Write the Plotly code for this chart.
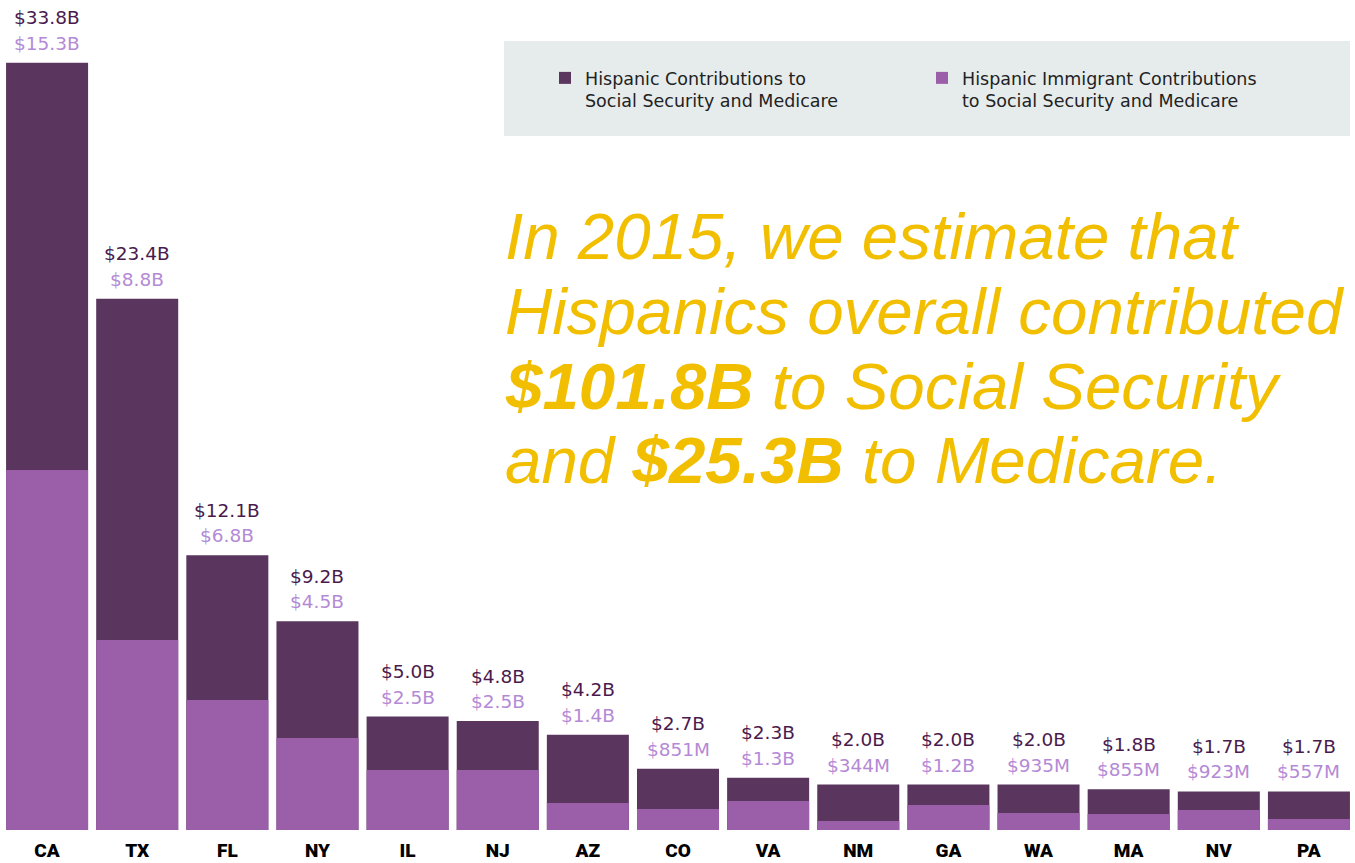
import plotly.graph_objects as go

states = ["CA", "TX", "FL", "NY", "IL", "NJ", "AZ", "CO", "VA", "NM", "GA", "WA", "MA", "NV", "PA"]
hispanic = [33.8, 23.4, 12.1, 9.2, 5.0, 4.8, 4.2, 2.7, 2.3, 2.0, 2.0, 2.0, 1.8, 1.7, 1.7]
# immigrant bar heights as drawn in the picture (billions)
immigrant = [15.86, 8.37, 5.73, 4.05, 2.64, 2.64, 1.19, 0.93, 1.28, 0.40, 1.10, 0.75, 0.70, 0.88, 0.48]
hispanic_labels = ["$33.8B", "$23.4B", "$12.1B", "$9.2B", "$5.0B", "$4.8B", "$4.2B", "$2.7B",
                   "$2.3B", "$2.0B", "$2.0B", "$2.0B", "$1.8B", "$1.7B", "$1.7B"]
immigrant_labels = ["$15.3B", "$8.8B", "$6.8B", "$4.5B", "$2.5B", "$2.5B", "$1.4B", "$851M",
                    "$1.3B", "$344M", "$1.2B", "$935M", "$855M", "$923M", "$557M"]

DARK = "#5a365e"
PURPLE = "#9b5ea8"
DARK_TXT = "#4a1a4e"
LIGHT_TXT = "#b48ad6"
YELLOW = "#f2bf00"

W, H = 1355, 863
ML, MR, MT, MB = 2, 1, 0, 33
PH = H - MT - MB

fig = go.Figure()
fig.add_trace(go.Bar(
    x=states, y=hispanic, marker_color=DARK, marker_line_width=0,
    name="Hispanic Contributions to<br>Social Security and Medicare",
))
fig.add_trace(go.Bar(
    x=states, y=immigrant, marker_color=PURPLE, marker_line_width=0,
    name="Hispanic Immigrant Contributions<br>to Social Security and Medicare",
))

LABEL_FONT = "'DejaVu Sans', Inter, sans-serif"
for s, v, hl, il in zip(states, hispanic, hispanic_labels, immigrant_labels):
    fig.add_annotation(x=s, y=v, text=hl, showarrow=False, yanchor="middle", yshift=45,
                       font=dict(family=LABEL_FONT, size=18.5, color=DARK_TXT))
    fig.add_annotation(x=s, y=v, text=il, showarrow=False, yanchor="middle", yshift=19.5,
                       font=dict(family=LABEL_FONT, size=18.5, color=LIGHT_TXT))

def py2paper(py):
    return (MT + PH - py) / PH

def px2paper(px):
    return (px - ML) / (W - ML - MR)

# legend background
fig.add_shape(type="rect", xref="paper", yref="paper",
              x0=px2paper(504), x1=px2paper(1350), y0=py2paper(136), y1=py2paper(41),
              fillcolor="#e6ecec", line_width=0, layer="below")

TITLE_FONT = "'Liberation Sans', Arial, sans-serif"
lines = [
    "In 2015, we estimate that",
    "Hispanics overall contributed",
    "<b>$101.8B</b> to Social Security",
    "and <b>$25.3B</b> to Medicare.",
]
baselines = [258, 333, 408, 483]
for ln, b in zip(lines, baselines):
    fig.add_annotation(xref="paper", yref="paper", x=px2paper(503), y=py2paper(b - 22),
                       xanchor="left", yanchor="middle", showarrow=False, text=ln,
                       font=dict(family=TITLE_FONT, size=65.5, color=YELLOW, style="italic"))

fig.update_layout(
    width=W, height=H,
    margin=dict(l=ML, r=MR, t=MT, b=MB, pad=0),
    paper_bgcolor="white", plot_bgcolor="white",
    barmode="overlay", bargap=0.09,
    showlegend=True,
    legend=dict(orientation="h", x=px2paper(545), y=py2paper(60), xanchor="left", yanchor="top",
                bgcolor="rgba(0,0,0,0)", valign="top", entrywidth=332, entrywidthmode="pixels",
                font=dict(family=LABEL_FONT, size=17.5, color="#222222"), traceorder="normal"),
    xaxis=dict(showgrid=False, zeroline=False, showline=False, ticks="", ticklabelstandoff=7,
               automargin=False,
               tickfont=dict(family="Roboto, 'Liberation Sans', Arial, sans-serif", size=19,
                             color="#000000", weight=900)),
    yaxis=dict(range=[0, PH / 22.7], visible=False, showgrid=False, zeroline=False,
               automargin=False),
)

fig.write_html("out.html", config={"displayModeBar": False},
               post_script="document.body.style.margin='0';document.body.style.overflow='hidden';")
